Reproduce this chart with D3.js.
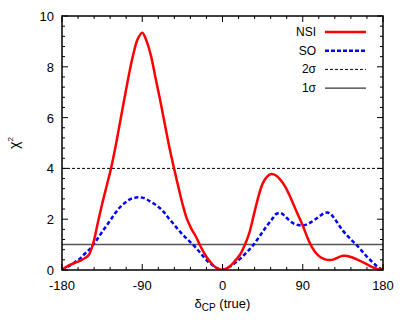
<!DOCTYPE html>
<meta charset="utf-8">
<style>
  body { margin: 0; background: #fff; }
  svg { font-family: "Liberation Sans", Arial, sans-serif; }
</style>
<body>
<script src="https://cdn.jsdelivr.net/npm/d3@7"></script>
<script>
    var width = 409,
        height = 327,
        margin = {top: 16, right: 26, bottom: 57, left: 62};

    // delta_CP (true) grid, degrees
    var deltaCP = d3.range(-180, 181, 5);

    // chi^2, one value per grid point
    var nsi = [0, 0.13, 0.22, 0.29, 0.36, 0.45, 0.59, 1.05, 1.83, 2.6,
        3.3, 4.0, 4.85, 5.8, 6.75, 7.68, 8.5, 9.1, 9.34, 9.0,
        8.4, 7.55, 6.7, 5.8, 4.9, 4.1, 3.35, 2.62, 2.02, 1.63,
        1.33, 0.96, 0.63, 0.37, 0.17, 0.05, 0,
        0.07, 0.2, 0.4, 0.62, 0.98, 1.45, 2.15, 2.85, 3.4, 3.68,
        3.78, 3.72, 3.55, 3.3, 2.95, 2.55, 2.15, 1.75, 1.3, 0.92,
        0.66, 0.5, 0.42, 0.39, 0.42, 0.5, 0.56, 0.55, 0.5, 0.43,
        0.35, 0.26, 0.17, 0.09, 0.03, 0];

    var so = [0, 0.1, 0.2, 0.32, 0.44, 0.62, 0.78, 1.0, 1.24, 1.5,
        1.75, 2.0, 2.25, 2.47, 2.63, 2.76, 2.83, 2.86, 2.85, 2.78,
        2.67, 2.57, 2.43, 2.25, 2.02, 1.82, 1.6, 1.41, 1.23, 1.06,
        0.88, 0.68, 0.47, 0.29, 0.16, 0.05, 0,
        0.07, 0.17, 0.3, 0.45, 0.62, 0.8, 1.0, 1.25, 1.5, 1.75,
        1.97, 2.2, 2.25, 2.12, 1.95, 1.83, 1.77, 1.75, 1.8, 1.9,
        2.02, 2.15, 2.25, 2.24, 2.05, 1.8, 1.55, 1.35, 1.17, 1.0,
        0.8, 0.6, 0.42, 0.25, 0.1, 0];

    var xTicks = [-180, -90, 0, 90, 180];
    var yTicks = [0, 2, 4, 6, 8, 10];
    var sigmaLevels = [{name: "2σ", v: 4}, {name: "1σ", v: 1}];

    var svg = d3.select("body").append("svg")
        .attr("width", width)
        .attr("height", height);

    var x = d3.scaleLinear().domain([-180, 180]).range([margin.left, width - margin.right]);
    var y = d3.scaleLinear().domain([0, 10]).range([height - margin.bottom, margin.top]);

    var x0 = x.range()[0], x1 = x.range()[1],
        y0 = y.range()[0], y1 = y.range()[1];

    // sigma lines
    svg.append("line")
        .attr("x1", x0).attr("x2", x1)
        .attr("y1", y(sigmaLevels[0].v)).attr("y2", y(sigmaLevels[0].v))
        .attr("stroke", "#000").attr("stroke-width", 1)
        .attr("stroke-dasharray", "3,2");
    svg.append("line")
        .attr("x1", x0).attr("x2", x1)
        .attr("y1", y(sigmaLevels[1].v)).attr("y2", y(sigmaLevels[1].v))
        .attr("stroke", "#555").attr("stroke-width", 1.5);

    var line = d3.line()
        .x((d, i) => x(deltaCP[i]))
        .y(d => y(d))
        .curve(d3.curveCatmullRom.alpha(0.5));

    svg.append("clipPath").attr("id", "clip")
        .append("rect").attr("x", x0).attr("y", y1).attr("width", x1 - x0).attr("height", y0 - y1);

    svg.append("path")
        .datum(so)
        .attr("clip-path", "url(#clip)")
        .attr("d", line)
        .attr("fill", "none")
        .attr("stroke", "#0000ff")
        .attr("stroke-width", 2.5)
        .attr("stroke-dasharray", "4,2.5");

    svg.append("path")
        .datum(nsi)
        .attr("clip-path", "url(#clip)")
        .attr("d", line)
        .attr("fill", "none")
        .attr("stroke", "#ff0000")
        .attr("stroke-width", 2.5);

    // ticks, inside, mirrored on all sides
    var xMinor = d3.range(-180, 181, 18);
    var yMinor = d3.range(0, 10.01, 0.4);
    var tk = svg.append("g").attr("stroke", "#000").attr("stroke-width", 1);
    xMinor.forEach(function (v) {
        var len = xTicks.indexOf(v) >= 0 ? 6 : 3;
        tk.append("line").attr("x1", x(v)).attr("x2", x(v)).attr("y1", y0).attr("y2", y0 - len);
        tk.append("line").attr("x1", x(v)).attr("x2", x(v)).attr("y1", y1).attr("y2", y1 + len);
    });
    yMinor.forEach(function (v) {
        var major = Math.abs(v / 2 - Math.round(v / 2)) < 1e-6;
        var len = major ? 6 : 3;
        tk.append("line").attr("y1", y(v)).attr("y2", y(v)).attr("x1", x0).attr("x2", x0 + len);
        tk.append("line").attr("y1", y(v)).attr("y2", y(v)).attr("x1", x1).attr("x2", x1 - len);
    });

    // frame
    svg.append("rect")
        .attr("x", x0).attr("y", y1)
        .attr("width", x1 - x0).attr("height", y0 - y1)
        .attr("fill", "none").attr("stroke", "#000").attr("stroke-width", 1.5);

    // tick labels
    svg.append("g").selectAll("text")
        .data(xTicks).enter().append("text")
        .attr("x", d => x(d)).attr("y", y0 + 20)
        .attr("text-anchor", "middle")
        .attr("font-size", 13)
        .text(d => d);
    svg.append("g").selectAll("text")
        .data(yTicks).enter().append("text")
        .attr("x", x0 - 8).attr("y", d => y(d) + 5)
        .attr("text-anchor", "end")
        .attr("font-size", 13)
        .text(d => d);

    // axis titles
    var xt = svg.append("text")
        .attr("x", (x0 + x1) / 2).attr("y", y0 + 38)
        .attr("text-anchor", "middle")
        .attr("font-size", 13);
    xt.append("tspan").text("δ");
    xt.append("tspan").attr("font-size", 10).attr("dy", 3).text("CP");
    xt.append("tspan").attr("dy", -3).text(" (true)");

    var yt = svg.append("text")
        .attr("transform", "translate(19," + ((y0 + y1) / 2) + ") rotate(-90)")
        .attr("text-anchor", "middle")
        .attr("font-size", 14);
    yt.append("tspan").text("χ");
    yt.append("tspan").attr("font-size", 8).attr("dy", -6).text("2");

    // legend
    var legend = [
        {name: "NSI", color: "#ff0000", w: 2.5, dash: null},
        {name: "SO", color: "#0000ff", w: 2.5, dash: "4,2"},
        {name: sigmaLevels[0].name, color: "#000", w: 1, dash: "3,2"},
        {name: sigmaLevels[1].name, color: "#000", w: 1, dash: null}
    ];
    var lg = svg.append("g").selectAll("g")
        .data(legend).enter().append("g")
        .attr("transform", (d, i) => "translate(0," + (32 + i * 18.7) + ")");
    lg.append("text")
        .attr("x", 316).attr("y", 4)
        .attr("text-anchor", "end")
        .attr("font-size", 12)
        .text(d => d.name);
    lg.append("line")
        .attr("x1", 325).attr("x2", 366)
        .attr("stroke", d => d.color)
        .attr("stroke-width", d => d.w)
        .attr("stroke-dasharray", d => d.dash);
</script>
</body>
</html>
